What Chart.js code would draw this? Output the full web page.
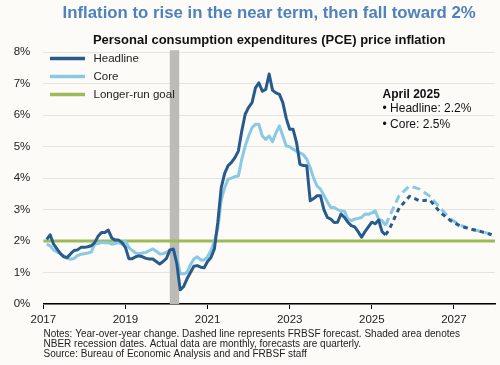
<!DOCTYPE html>
<html>
<head>
<meta charset="utf-8">
<script src="https://cdn.jsdelivr.net/npm/chart.js@4/dist/chart.umd.min.js"></script>
<style>
  html, body { margin: 0; padding: 0; background: #fcfbf8; }
  canvas { display: block; }
</style>
</head>
<body>
<canvas id="pceChart" width="500" height="365"></canvas>
<script>
// monthly actuals, Jan 2017 .. Apr 2025 (year-over-year %)
const firstYear = 2017;
const headline = [
  2.05, 2.2, 1.9, 1.75, 1.6, 1.5, 1.48, 1.6, 1.7, 1.72, 1.8, 1.8,
  1.82, 1.85, 1.95, 2.15, 2.27, 2.27, 2.35, 2.1, 2.03, 2.03, 1.95, 1.8,
  1.44, 1.44, 1.5, 1.53, 1.5, 1.45, 1.43, 1.43, 1.35, 1.27, 1.35, 1.45,
  1.72, 1.75, 1.3, 0.45, 0.55, 0.8, 1.0, 1.2, 1.22, 1.17, 1.15, 1.35,
  1.48, 1.75, 2.6, 3.7, 4.15, 4.4, 4.5, 4.65, 4.86, 5.5, 6.03, 6.25,
  6.4, 6.87, 7.03, 6.76, 6.82, 7.31, 6.79, 6.71, 6.66, 6.4, 5.9, 5.55,
  5.55, 5.13, 4.44, 4.4, 4.39, 3.28, 3.35, 3.44, 3.44, 3.0, 2.75, 2.7,
  2.59, 2.6, 2.86, 2.75, 2.6, 2.49, 2.45, 2.3, 2.12, 2.3, 2.45, 2.6,
  2.55, 2.67, 2.3, 2.2
];
const core = [
  1.9, 1.85, 1.72, 1.65, 1.6, 1.52, 1.45, 1.42, 1.45, 1.54, 1.58, 1.6,
  1.62, 1.65, 1.9, 1.92, 1.96, 1.95, 1.95, 1.9, 1.92, 1.96, 1.9, 2.0,
  1.8, 1.7, 1.62, 1.6, 1.62, 1.64, 1.7, 1.75, 1.68, 1.59, 1.6, 1.64,
  1.7, 1.75, 1.5, 0.96, 0.96, 1.0, 1.25, 1.43, 1.5, 1.4, 1.4, 1.5,
  1.7, 2.0, 2.4, 3.3, 3.7, 3.97, 4.0, 4.05, 4.07, 4.6, 5.02, 5.34,
  5.6, 5.71, 5.71, 5.34, 5.23, 5.34, 5.16, 5.44, 5.66, 5.34, 5.02, 5.0,
  4.92, 4.86, 4.8, 4.75, 4.6, 4.33, 4.0, 3.75, 3.65, 3.45, 3.25, 3.07,
  3.07, 3.0, 2.96, 2.95, 2.7, 2.65, 2.7, 2.72, 2.75, 2.86, 2.85, 2.9,
  2.96, 2.7, 2.65, 2.5
];

// quarterly FRBSF forecast
const forecastQuarters = ['2025Q2', '2025Q3', '2025Q4', '2026Q1', '2026Q2', '2026Q3',
  '2026Q4', '2027Q1', '2027Q2', '2027Q3', '2027Q4'];
const headlineForecast = [2.35, 3.05, 3.42, 3.28, 3.3, 2.91, 2.65, 2.47, 2.38, 2.3, 2.2];
const coreForecast = [2.75, 3.45, 3.75, 3.65, 3.42, 3.05, 2.7, 2.5, 2.38, 2.3, 2.22];

const goal = 2;
const recession = [2020.08, 2020.31];
const xTicks = [2017, 2019, 2021, 2023, 2025, 2027];
const yTicks = [0, 1, 2, 3, 4, 5, 6, 7, 8];

const titleText = 'Inflation to rise in the near term, then fall toward 2%';
const subtitleText = 'Personal consumption expenditures (PCE) price inflation';
const calloutLines = ['April 2025', '\u2022 Headline: 2.2%', '\u2022 Core: 2.5%'];
const notes = [
  'Notes: Year-over-year change. Dashed line represents FRBSF forecast. Shaded area denotes',
  'NBER recession dates. Actual data are monthly, forecasts are quarterly.',
  'Source: Bureau of Economic Analysis and and FRBSF staff'
];

const DARK = '#285a8c';
const LIGHT = '#89c9e6';
const GREEN = '#9bbb59';
const FONT = '"Liberation Sans", Arial, Helvetica, sans-serif';

// month values plotted at month end, quarters at the middle month
function monthX(i) { return firstYear + (i + 1) / 12; }
function quarterX(q) {
  const yr = parseInt(q.slice(0, 4), 10);
  const n = parseInt(q.slice(5), 10);
  return yr + (3 * n - 1) / 12;
}

const headlinePts = headline.map((v, i) => ({ x: monthX(i), y: v }));
const corePts = core.map((v, i) => ({ x: monthX(i), y: v }));
const lastI = headline.length - 1;
const headlineFcPts = [{ x: monthX(lastI), y: headline[lastI] }]
  .concat(forecastQuarters.map((q, i) => ({ x: quarterX(q), y: headlineForecast[i] })));
const coreFcPts = [{ x: monthX(lastI), y: core[lastI] }]
  .concat(forecastQuarters.map((q, i) => ({ x: quarterX(q), y: coreForecast[i] })));
const goalPts = [{ x: 2017, y: goal }, { x: 2028, y: goal }];

const legendItems = [
  { text: 'Headline', color: DARK },
  { text: 'Core', color: LIGHT },
  { text: 'Longer-run goal', color: GREEN }
];

const bgPlugin = {
  id: 'bg',
  beforeDraw(chart) {
    const c = chart.ctx;
    c.save();
    c.fillStyle = '#fcfbf8';
    c.fillRect(0, 0, chart.width, chart.height);
    c.restore();
  }
};

const recessionPlugin = {
  id: 'recession',
  beforeDatasetsDraw(chart) {
    const c = chart.ctx, a = chart.chartArea, xs = chart.scales.x;
    const x0 = xs.getPixelForValue(recession[0]);
    const x1 = xs.getPixelForValue(recession[1]);
    c.save();
    c.fillStyle = '#bdbbb7';
    c.fillRect(x0, a.top - 2, x1 - x0, a.bottom - a.top + 2);
    c.restore();
  }
};

const extrasPlugin = {
  id: 'extras',
  afterDraw(chart) {
    const c = chart.ctx;
    c.save();
    // legend
    c.textBaseline = 'middle';
    c.textAlign = 'left';
    c.font = '11.5px ' + FONT;
    legendItems.forEach((it, i) => {
      const y = 58.5 + i * 18;
      c.strokeStyle = it.color;
      c.lineWidth = 3.5;
      c.beginPath();
      c.moveTo(50, y);
      c.lineTo(85, y);
      c.stroke();
      c.fillStyle = '#222';
      c.fillText(it.text, 93.5, y);
    });
    // April 2025 callout
    c.fillStyle = '#111';
    c.font = 'bold 12px ' + FONT;
    c.fillText(calloutLines[0], 382.5, 95);
    c.font = '12px ' + FONT;
    c.fillText(calloutLines[1], 382.5, 108.5);
    c.fillText(calloutLines[2], 382.5, 125);
    // notes
    c.fillStyle = '#222';
    c.font = '10px ' + FONT;
    notes.forEach((t, i) => c.fillText(t, 43.5, 334 + i * 10));
    c.restore();
  }
};

const ctx = document.getElementById('pceChart').getContext('2d');
Chart.defaults.font.family = FONT;

new Chart(ctx, {
  type: 'line',
  data: {
    datasets: [
      { label: 'Headline', data: headlinePts, borderColor: DARK, borderWidth: 3 },
      { label: 'Core', data: corePts, borderColor: LIGHT, borderWidth: 3 },
      { label: 'Headline forecast', data: headlineFcPts, borderColor: DARK, borderWidth: 3,
        borderDash: [4.5, 4], borderCapStyle: 'butt' },
      { label: 'Core forecast', data: coreFcPts, borderColor: LIGHT, borderWidth: 3,
        borderDash: [8, 4.5], borderCapStyle: 'butt' },
      { label: 'Longer-run goal', data: goalPts, borderColor: GREEN, borderWidth: 3 }
    ]
  },
  options: {
    responsive: false,
    animation: false,
    devicePixelRatio: 1,
    elements: {
      point: { radius: 0 },
      line: { tension: 0, borderJoinStyle: 'round', fill: false }
    },
    layout: { padding: { left: 0, right: 5, top: 0, bottom: 41 } },
    plugins: {
      legend: { display: false },
      tooltip: { enabled: false },
      title: {
        display: true, text: titleText, color: '#4f81bd', fullSize: false,
        font: { size: 16.8, weight: 'bold' }, padding: { top: 3, bottom: 4 }
      },
      subtitle: {
        display: true, text: subtitleText, color: '#111', fullSize: false,
        font: { size: 13, weight: 'bold' }, padding: { top: 5, bottom: 4.5 }
      }
    },
    scales: {
      x: {
        type: 'linear', min: 2017, max: 2028,
        afterBuildTicks(s) { s.ticks = xTicks.map(v => ({ value: v })); },
        afterFit(s) { s.height = 20; },
        ticks: { callback: v => String(v), color: '#222', font: { size: 11.5 },
          padding: 3.5, maxRotation: 0, autoSkip: false },
        grid: { drawOnChartArea: false, tickLength: 5, color: '#000', lineWidth: 1 },
        border: { color: '#000', width: 1.5 }
      },
      y: {
        min: 0, max: 8,
        afterBuildTicks(s) { s.ticks = yTicks.map(v => ({ value: v })); },
        afterFit(s) { s.width = 43.3; },
        ticks: { callback: v => v + '%', color: '#222', font: { size: 11.5 }, padding: 13 },
        grid: { color: '#e6e4df', lineWidth: 1, drawTicks: false },
        border: { display: false }
      }
    }
  },
  plugins: [bgPlugin, recessionPlugin, extrasPlugin]
});
</script>
</body>
</html>
